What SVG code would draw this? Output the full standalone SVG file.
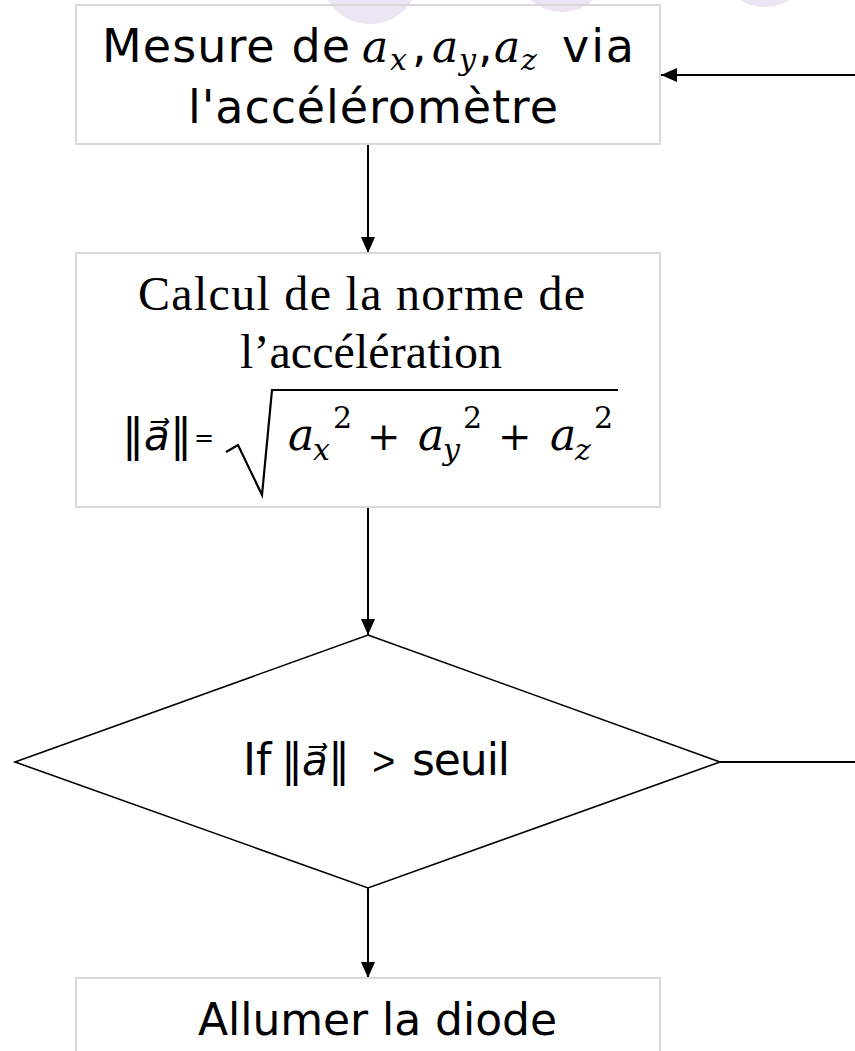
<svg xmlns="http://www.w3.org/2000/svg" width="855" height="1051" viewBox="0 0 855 1051">
<defs>
<style>
.box{fill:none;stroke:#d9d9d9;stroke-width:2}
.dia{fill:#ffffff;stroke:#000;stroke-width:1.6}
.con{fill:none;stroke:#000;stroke-width:2}
.sans{font-family:"DejaVu Sans",sans-serif;fill:#000}
.serif{font-family:"Liberation Serif",serif;font-size:48px;fill:#000}
.math{font-family:"DejaVu Serif","Liberation Serif",serif;font-style:italic;fill:#000}
.vec{font-family:"DejaVu Sans",sans-serif;font-style:italic;fill:#000}
.up{font-family:"DejaVu Serif","Liberation Serif",serif;fill:#000}
.deco{fill:#ebe4f2}
</style>
<marker id="ah" viewBox="0 0 16 14" refX="16" refY="7" markerWidth="16" markerHeight="14" markerUnits="userSpaceOnUse" orient="auto">
<path d="M0,0 L16,7 L0,14 Z" fill="#000"/>
</marker>
</defs>
<rect width="855" height="1051" fill="#ffffff"/>
<g id="decor">
<ellipse class="deco" cx="370" cy="-22" rx="48" ry="46"/>
<ellipse class="deco" cx="562" cy="-32" rx="46" ry="44"/>
<ellipse class="deco" cx="765" cy="-37" rx="46" ry="44"/>
</g>
<g id="connectors">
<line class="con" x1="855" y1="75" x2="661" y2="75" marker-end="url(#ah)"/>
<line class="con" x1="368" y1="144" x2="368" y2="253" marker-end="url(#ah)"/>
<line class="con" x1="368" y1="507" x2="368" y2="635" marker-end="url(#ah)"/>
<line class="con" x1="720" y1="762" x2="855" y2="762"/>
<line class="con" x1="368" y1="888" x2="368" y2="978" marker-end="url(#ah)"/>
</g>
<g id="node-mesure">
<rect class="box" x="76" y="5" width="584" height="139"/>
<text class="sans" font-size="46" x="102" y="62" textLength="248">Mesure de</text>
<text class="math" font-size="44" y="62"><tspan x="362">a</tspan><tspan x="390" y="70" font-size="30">x</tspan></text>
<text class="sans" font-size="46" x="412" y="62">,</text>
<text class="math" font-size="44" y="62"><tspan x="432">a</tspan><tspan x="459" y="70" font-size="30">y</tspan></text>
<text class="sans" font-size="46" x="478" y="62">,</text>
<text class="math" font-size="44" y="62"><tspan x="494">a</tspan><tspan x="521" y="70" font-size="30">z</tspan></text>
<text class="sans" font-size="46" x="562" y="62" textLength="72">via</text>
<text class="sans" font-size="46" x="188" y="123" textLength="370">l'accéléromètre</text>
</g>
<g id="node-calcul">
<rect class="box" x="76" y="253" width="584" height="254"/>
<text class="serif" x="138" y="310" textLength="447">Calcul de la norme de</text>
<text class="serif" x="240" y="368" textLength="262">l’accélération</text>
<text class="up" font-size="44" x="122" y="450">‖</text>
<text class="vec" font-size="42" x="144" y="450">a&#x20D7;</text>
<text class="up" font-size="44" x="170" y="450">‖</text>
<text class="sans" font-size="24" x="194" y="446">=</text>
<path d="M226 452 L238 445 L262 495 L272 390 H618" fill="none" stroke="#000" stroke-width="2.2" stroke-linejoin="miter"/>
<text class="math" font-size="44" y="450"><tspan x="288">a</tspan><tspan x="313" y="460" font-size="30">x</tspan></text>
<text class="up" font-size="30" x="333" y="428">2</text>
<text class="up" font-size="40" x="367" y="450">+</text>
<text class="math" font-size="44" y="450"><tspan x="418">a</tspan><tspan x="443" y="460" font-size="30">y</tspan></text>
<text class="up" font-size="30" x="463" y="428">2</text>
<text class="up" font-size="40" x="498" y="450">+</text>
<text class="math" font-size="44" y="450"><tspan x="550">a</tspan><tspan x="575" y="460" font-size="30">z</tspan></text>
<text class="up" font-size="30" x="594" y="428">2</text>
</g>
<g id="node-if">
<polygon class="dia" points="368,635 720,762 368,888 15,762"/>
<text class="sans" font-size="44" x="243" y="775">If</text>
<text class="up" font-size="44" x="281" y="775">‖</text>
<text class="vec" font-size="42" x="302" y="775">a&#x20D7;</text>
<text class="up" font-size="44" x="328" y="775">‖</text>
<text font-family="Liberation Sans, sans-serif" font-size="40" x="372" y="775">&gt;</text>
<text class="sans" font-size="44" x="412" y="775" textLength="98">seuil</text>
</g>
<g id="node-allumer">
<rect class="box" x="76" y="978" width="584" height="90"/>
<text class="sans" font-size="44" x="198" y="1035" textLength="359">Allumer la diode</text>
</g>
</svg>
